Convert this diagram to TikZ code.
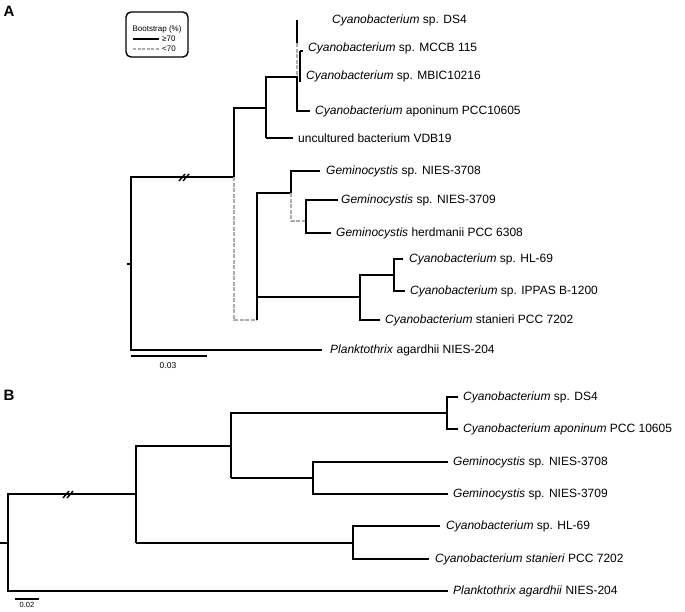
\documentclass[tikz,border=0pt]{standalone}
\usepackage{fontspec}
\setmainfont{Liberation Sans}
\begin{document}
\begin{tikzpicture}[x=1pt,y=-1pt,
  br/.style={line width=2.3pt},
  thin/.style={line width=1.4pt},
  dsh/.style={line width=2.3pt,gray!65,dash pattern=on 4pt off 1.5pt},
  lab/.style={anchor=west,font=\fontsize{12}{14}\selectfont,inner sep=0pt},
  brk/.style={line width=1.4pt}]
\useasboundingbox (0,0) rectangle (685,611);
\node[font=\bfseries\fontsize{15}{17}\selectfont] (A) at (9,11) {A};
\node[font=\bfseries\fontsize{15}{17}\selectfont] (B) at (9,395) {B};
% legend
\draw[line width=1.4pt,rounded corners=5pt] (126,12) rectangle (188,57);
\node[font=\fontsize{8}{9}\selectfont] (lt) at (157,29) {Bootstrap (\%)};
\node[font=\fontsize{8}{9}\selectfont,anchor=west,inner sep=0pt] (l1) at (162,39) {≥70};
\node[font=\fontsize{8}{9}\selectfont,anchor=west,inner sep=0pt] (l2) at (162,49) {<70};
\draw[line width=1.2pt] (133,39) -- (159,39);
\draw[line width=1.2pt,gray!65,dash pattern=on 3pt off 1.5pt] (133,49) -- (159,49);
% tree A
\draw[br] (127,264) -- (131,264);
\draw[br] (234,177) -- (131,177) -- (131,350) -- (322,350);
\draw[brk] (179,181) -- (185,174) (183,181) -- (189,174);
\draw[br] (234,177) -- (234,108) -- (266,108);
\draw[br] (266,138) -- (266,77) -- (297,77);
\draw[br] (293,138) -- (266,138);
\draw[br] (297,43) -- (297,20);
\draw[dsh] (297,43) -- (297,77);
\draw[br] (297,76) -- (297,111) -- (310,111);
\draw[thin] (300,51) -- (300,82) (300,51) -- (303,51);
\draw[dsh] (234,177) -- (234,320) -- (257,320);
\draw[br] (257,320) -- (257,193) -- (291,193);
\draw[br] (291,193) -- (291,171) -- (320,171);
\draw[dsh] (291,193) -- (291,221) -- (306,221);
\draw[br] (338,200) -- (306,200) -- (306,233) -- (331,233);
\draw[br] (257,297) -- (360,297);
\draw[br] (380,320) -- (360,320) -- (360,275) -- (394,275);
\draw[br] (403,259) -- (394,259) -- (394,291) -- (405,291);
\draw[br] (131,356) -- (207,356);
\node[font=\fontsize{8.5}{10}\selectfont] (sA) at (168,366) {0.03};
\node[lab] (a1) at (332,20) {\textit{Cyanobacterium} sp. DS4};
\node[lab] (a2) at (308,48) {\textit{Cyanobacterium} sp. MCCB 115};
\node[lab] (a3) at (306,76) {\textit{Cyanobacterium} sp. MBIC10216};
\node[lab] (a4) at (315,111) {\textit{Cyanobacterium} aponinum PCC10605};
\node[lab] (a5) at (298,138) {uncultured bacterium VDB19};
\node[lab] (a6) at (326,171) {\textit{Geminocystis} sp. NIES-3708};
\node[lab] (a7) at (341,200) {\textit{Geminocystis} sp. NIES-3709};
\node[lab] (a8) at (336,233) {\textit{Geminocystis} herdmanii PCC 6308};
\node[lab] (a9) at (409,259) {\textit{Cyanobacterium} sp. HL-69};
\node[lab] (a10) at (410,291) {\textit{Cyanobacterium} sp. IPPAS B-1200};
\node[lab] (a11) at (385,320) {\textit{Cyanobacterium} stanieri PCC 7202};
\node[lab] (a12) at (330,350) {\textit{Planktothrix} agardhii NIES-204};
% tree B
\draw[thin] (0,543) -- (8,543);
\draw[thin] (136,494) -- (8,494) -- (8,591) -- (448,591);
\draw[brk] (63,498) -- (69,491) (67,498) -- (73,491);
\draw[thin] (136,543) -- (136,446) -- (231,446);
\draw[thin] (231,478) -- (231,413) -- (447,413);
\draw[thin] (458,397) -- (447,397) -- (447,429) -- (458,429);
\draw[thin] (231,478) -- (313,478);
\draw[thin] (448,462) -- (313,462) -- (313,494) -- (448,494);
\draw[thin] (136,543) -- (353,543);
\draw[thin] (440,526) -- (353,526) -- (353,559) -- (429,559);
\draw[thin] (15,599) -- (39,599);
\node[font=\fontsize{7.5}{9}\selectfont] (sB) at (27,605) {0.02};
\node[lab] (b1) at (463,397) {\textit{Cyanobacterium} sp. DS4};
\node[lab] (b2) at (463,429) {\textit{Cyanobacterium aponinum} PCC 10605};
\node[lab] (b3) at (453,462) {\textit{Geminocystis} sp. NIES-3708};
\node[lab] (b4) at (453,494) {\textit{Geminocystis} sp. NIES-3709};
\node[lab] (b5) at (446,526) {\textit{Cyanobacterium} sp. HL-69};
\node[lab] (b6) at (435,559) {\textit{Cyanobacterium stanieri} PCC 7202};
\node[lab] (b7) at (453,591) {\textit{Planktothrix agardhii} NIES-204};
\end{tikzpicture}
\end{document}
